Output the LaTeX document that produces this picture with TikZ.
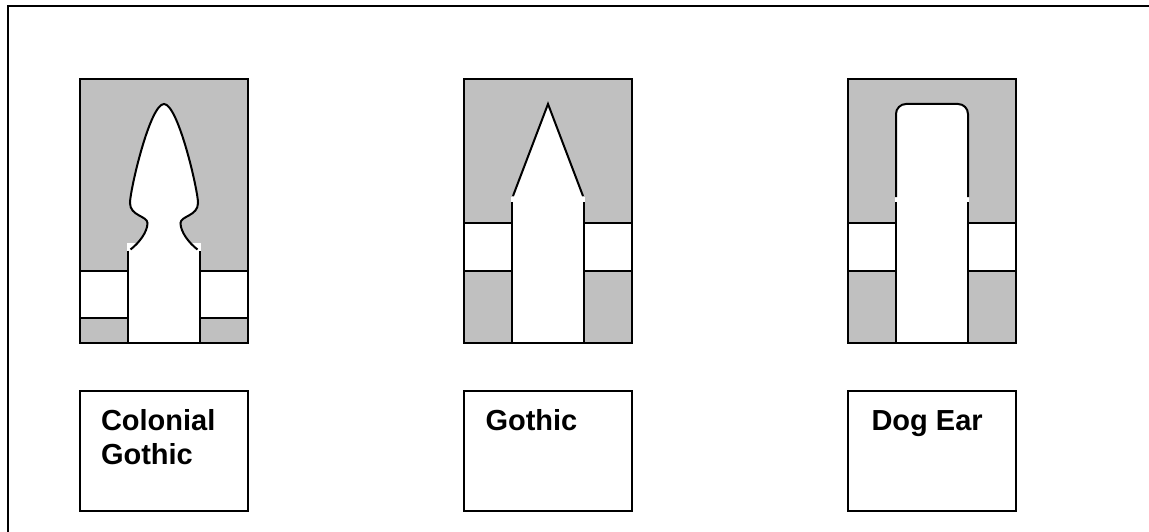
\documentclass[tikz,border=0pt]{standalone}
\usepackage{fontspec}
\setmainfont{Liberation Sans}
\usepackage{xcolor}
\definecolor{wallgray}{RGB}{192,192,192}
\begin{document}
\begin{tikzpicture}[
  x=1pt, y=-1pt,
  line width=2pt,
  capbox/.style={draw, rectangle, minimum width=168pt, minimum height=120pt, inner sep=0pt, outer sep=0pt},
  captxt/.style={align=left, inner sep=0pt, font=\fontsize{29}{34.5}\selectfont\bfseries},
  wall/.style={fill=wallgray, draw=black},
  pane/.style={fill=white, draw=black},
  stile/.style={fill=white, draw=none}
]
\useasboundingbox (0,0) rectangle (1149,532);
\draw (1149,6.5) -- (7.5,6.5) -- (7.5,532);
% the three window openings
\draw[wall] (80,79) rectangle (248,343);
\draw[pane] (80,271) rectangle (128,318);
\draw[pane] (200,271) rectangle (248,318);
\draw[wall] (464,79) rectangle (632,343);
\draw[pane] (464,223) rectangle (512,271);
\draw[pane] (584,223) rectangle (632,271);
\draw[wall] (848,79) rectangle (1016,343);
\draw[pane] (848,223) rectangle (896,271);
\draw[pane] (968,223) rectangle (1016,271);
% colonial gothic head
\fill[stile] (127,243) rectangle (201,343);
\draw[fill=white] (130.5,249.5) .. controls (139,243) and (147.5,232) .. (147.5,223)
  .. controls (147.5,216) and (130,216) .. (130,203)
  .. controls (130,190) and (150,104) .. (164,104)
  .. controls (178,104) and (198,190) .. (198,203)
  .. controls (198,216) and (180.5,216) .. (180.5,223)
  .. controls (180.5,232) and (189,243) .. (197.5,249.5);
\draw (128,250.5) -- (128,343) -- (200,343) -- (200,250.5);
% gothic head
\fill[stile] (511,197) rectangle (585,343);
\fill[stile] (513,198) -- (548,104) -- (583,198) -- cycle;
\draw (513,196) -- (548,104) -- (583,196);
\draw (512,202) -- (512,343) -- (584,343) -- (584,202);
% dog ear head
\fill[stile] (895,197) rectangle (969,343);
\draw[fill=white, rounded corners=10pt] (896,197) -- (896,104) -- (968,104) -- (968,197);
\draw (896,202) -- (896,343) -- (968,343) -- (968,202);
% captions
\foreach \n/\x in {1/164, 2/548, 3/932}
  \node[capbox] (cap\n) at (\x,451) {};
\node[captxt, anchor=north west] (lab1) at (100,408) {Colonial\\Gothic};
\node[captxt, anchor=base west] (lab2) at (484.5,430) {Gothic};
\node[captxt, anchor=base west] (lab3) at (870.5,430) {Dog Ear};
\end{tikzpicture}
\end{document}
